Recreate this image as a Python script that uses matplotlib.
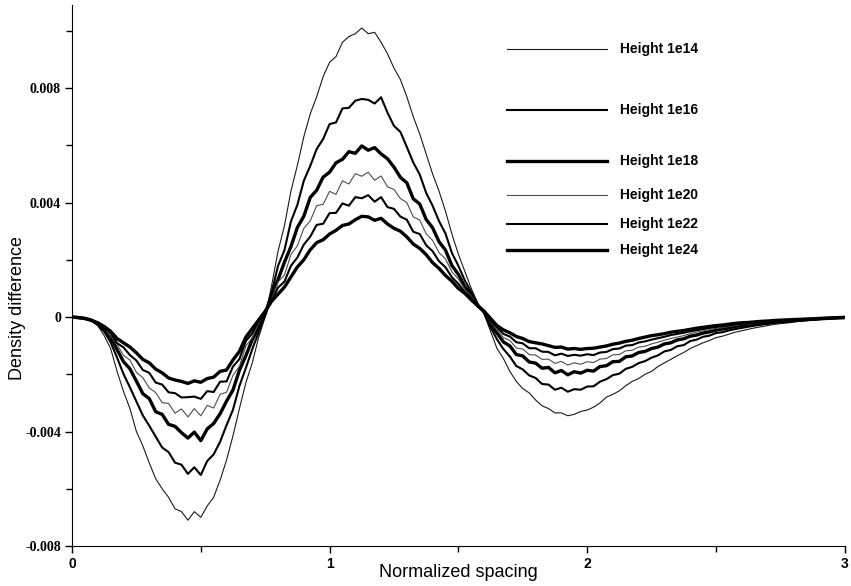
import numpy as np
import matplotlib
matplotlib.use("Agg")
import matplotlib.pyplot as plt

# values, in units of 1e-4, x step 0.025 from 0 to 3
spacing = np.linspace(0, 3, 121)
scale = 1e-4

h14 = [0, -0.2, -0.5, -1.2, -3, -6.5, -11, -19, -26, -32,
       -40, -45, -51, -56.5, -60, -63, -67, -68, -71, -68,
       -70, -66, -63, -57, -50, -41.5, -32, -23, -16, -7,
       0, 11, 23, 32, 44, 53, 63, 71, 77, 84,
       89, 91, 96, 98, 99, 101, 99, 99.5, 96, 92,
       87, 83, 77, 70, 64, 57, 50, 44, 37, 29,
       22, 16, 10, 5, 1, -5, -11, -14.5, -19, -22.5,
       -25, -26.5, -29, -31, -32, -33.5, -33.5, -34.5, -34, -33,
       -32.5, -31.5, -30, -28, -27, -25.8, -24, -22.5, -21.5, -20,
       -19, -17.3, -16, -14.8, -13.5, -12.4, -11, -10, -9, -8.2,
       -7.2, -6.7, -6, -5.3, -4.8, -4.3, -3.8, -3.4, -3, -2.6,
       -2.3, -2.1, -1.8, -1.5, -1.3, -1.1, -0.9, -0.7, -0.5, -0.4,
       -0.3]
h16 = [0, -0.2, -0.5, -1.2, -2.6, -5.0, -8.8, -14.2, -19.9, -24.6,
       -29.5, -34.4, -38.0, -41.8, -45.6, -47.2, -50.9, -51.6, -54.8, -52.5,
       -55.2, -50.3, -48.0, -43.6, -37.8, -32.4, -24.1, -17.8, -11.2, -5.3,
       0.9, 8.6, 17.9, 23.4, 33.4, 39.2, 47.6, 52.8, 58.7, 62.2,
       67.4, 68.0, 72.9, 73.1, 75.6, 76.2, 75.9, 74.6, 76.8, 71.4,
       66.8, 64.7, 59.4, 54.0, 49.8, 43.4, 38.9, 33.5, 29.2, 22.4,
       17.9, 12.8, 8.8, 4.3, 1.6, -3.6, -7.8, -11.2, -13.8, -17.1,
       -18.3, -20.4, -21.3, -23.4, -23.6, -25.4, -24.7, -26.1, -25.2, -25.4,
       -24.3, -24.2, -22.6, -21.7, -20.3, -19.8, -18.1, -17.4, -16.1, -15.4,
       -14.2, -13.4, -12.0, -11.5, -10.2, -9.8, -8.4, -7.9, -6.9, -6.5,
       -5.6, -5.3, -4.7, -4.2, -3.8, -3.4, -3.0, -2.7, -2.4, -2.1,
       -1.9, -1.7, -1.5, -1.2, -1.1, -0.9, -0.8, -0.6, -0.4, -0.3,
       -0.2]
h18 = [0, -0.2, -0.5, -1.1, -2.4, -4.7, -7.0, -11.4, -15.6, -18.1,
       -22.4, -26.8, -28.5, -33.1, -34.0, -37.5, -38.2, -40.4, -42.3, -40.2,
       -43.2, -39.1, -37.2, -33.8, -29.4, -25.5, -18.6, -13.5, -7.9, -3.6,
       1.0, 7.9, 13.1, 19.2, 24.6, 31.3, 35.2, 41.8, 44.3, 48.9,
       50.6, 53.9, 55.1, 57.8, 57.2, 59.8, 58.3, 59.2, 57.0, 55.3,
       52.4, 48.8, 46.9, 41.3, 39.5, 34.1, 31.2, 26.3, 23.4, 18.0,
       14.9, 10.6, 7.9, 4.0, 1.9, -2.6, -5.6, -8.7, -10.1, -13.1,
       -13.6, -15.7, -16.1, -17.9, -17.6, -19.5, -18.7, -20.2, -19.1, -19.6,
       -18.6, -18.9, -17.3, -17.0, -15.6, -15.5, -13.9, -13.6, -12.4, -12.0,
       -11.0, -10.5, -9.4, -9.0, -8.0, -7.6, -6.7, -6.3, -5.6, -5.2,
       -4.6, -4.2, -3.8, -3.3, -3.0, -2.8, -2.5, -2.2, -2.0, -1.7,
       -1.5, -1.4, -1.2, -1.1, -0.9, -0.8, -0.6, -0.5, -0.4, -0.3,
       -0.2]
h20 = [0, -0.2, -0.5, -1.1, -2.3, -3.8, -6.7, -9.6, -13.4, -15.0,
       -19.3, -21.2, -24.8, -26.4, -29.9, -30.2, -33.6, -32.1, -34.9, -32.0,
       -34.5, -30.9, -31.8, -27.0, -26.3, -20.4, -17.2, -10.1, -7.3, -2.0,
       1.8, 6.2, 12.3, 14.7, 21.8, 24.9, 31.0, 33.6, 38.9, 39.4,
       43.9, 42.9, 47.6, 46.5, 50.1, 49.2, 50.6, 47.8, 49.3, 45.5,
       44.6, 41.4, 40.0, 35.0, 33.9, 29.1, 26.8, 22.5, 20.3, 15.8,
       13.3, 9.6, 7.3, 3.8, 2.2, -1.9, -4.4, -7.2, -8.2, -10.8,
       -11.2, -13.1, -13.3, -14.8, -14.7, -16.2, -15.5, -16.8, -16.0, -16.5,
       -15.6, -15.9, -14.7, -14.5, -13.2, -13.1, -11.8, -11.6, -10.5, -10.2,
       -9.4, -8.8, -8.1, -7.5, -7.0, -6.5, -5.8, -5.3, -4.8, -4.4,
       -4.0, -3.7, -3.3, -2.9, -2.6, -2.5, -2.2, -1.9, -1.8, -1.5,
       -1.4, -1.3, -1.1, -1.0, -0.8, -0.7, -0.6, -0.5, -0.3, -0.3,
       -0.2]
h22 = [0, -0.2, -0.5, -1.1, -2.0, -3.9, -5.5, -9.1, -10.6, -13.3,
       -15.2, -18.5, -19.5, -22.9, -23.6, -26.3, -26.6, -28.1, -28.0, -27.8,
       -28.6, -25.9, -26.2, -22.6, -22.5, -17.3, -14.7, -8.4, -5.7, -1.3,
       2.1, 5.6, 10.3, 12.4, 17.9, 20.8, 25.3, 28.1, 32.2, 32.6,
       36.3, 36.4, 39.7, 38.9, 41.9, 41.5, 42.6, 40.3, 41.9, 38.4,
       37.8, 35.1, 34.0, 29.8, 29.0, 25.1, 23.0, 19.5, 17.4, 13.9,
       11.6, 8.7, 6.7, 3.8, 2.1, -1.3, -3.6, -5.9, -6.8, -8.8,
       -9.2, -10.9, -10.9, -12.1, -12.2, -13.4, -12.8, -13.6, -13.2, -13.5,
       -13.0, -13.3, -12.4, -12.2, -11.2, -11.0, -10.0, -9.8, -8.9, -8.5,
       -7.9, -7.4, -6.9, -6.3, -5.9, -5.5, -5.0, -4.6, -4.2, -3.8,
       -3.5, -3.2, -2.9, -2.5, -2.3, -2.2, -1.9, -1.7, -1.6, -1.4,
       -1.2, -1.1, -1.0, -0.9, -0.8, -0.7, -0.5, -0.4, -0.3, -0.2,
       -0.1]
h24 = [0, -0.2, -0.5, -1.1, -2, -3.3, -5, -7.5, -9, -10.5,
       -12.5, -14.8, -16, -18.2, -19.5, -21.3, -22, -22.5, -23.2, -22.3,
       -22.8, -21.5, -21, -19, -18.5, -15, -12, -7, -4, -1,
       2, 5.5, 8, 10.5, 14, 17.5, 20, 23.5, 26, 27,
       29, 30.3, 32, 32.5, 34, 35.2, 35, 33.8, 34.5, 32.5,
       31, 30, 28, 25.5, 24, 21.8, 19, 17, 14.5, 12.5,
       10, 8.3, 6, 4, 2, -0.5, -3, -4.5, -5.5, -6.8,
       -7.5, -8.6, -9, -9.4, -10, -10.6, -10.5, -11.2, -11, -11.3,
       -11, -10.9, -10.5, -10.1, -9.5, -9.1, -8.5, -8.1, -7.5, -7,
       -6.5, -6.2, -5.8, -5.3, -5, -4.7, -4.3, -3.9, -3.6, -3.3,
       -3, -2.8, -2.5, -2.2, -2, -1.9, -1.7, -1.5, -1.4, -1.2,
       -1.1, -1, -0.9, -0.8, -0.7, -0.6, -0.5, -0.4, -0.3, -0.2,
       -0.1]

labels = ["Height 1e14", "Height 1e16", "Height 1e18",
          "Height 1e20", "Height 1e22", "Height 1e24"]
series = [h14, h16, h18, h20, h22, h24]
widths = [0.8, 1.5, 2.4, 0.8, 1.5, 2.4]
colors = ["#1a1a1a", "black", "black", "#4d4d4d", "black", "black"]
# legend rows, axes fraction (irregular spacing as in the original)
leg_y = [0.919, 0.806, 0.712, 0.649, 0.595, 0.547]

fig = plt.figure(figsize=(8.51, 5.86), dpi=100)
ax = fig.add_axes([0.0846, 0.0683, 0.908, 0.923])

for vals, lab, lw, c, ly in zip(series, labels, widths, colors, leg_y):
    ax.plot(spacing, np.array(vals) * scale, color=c, lw=lw)
    ax.plot([0.563, 0.693], [ly, ly], color=c, lw=lw, transform=ax.transAxes)
    ax.text(0.709, ly, lab, transform=ax.transAxes, va="center", ha="left",
            fontsize=10, fontweight="bold", family="Liberation Sans")

ax.set_xlim(0, 3)
ax.set_ylim(-0.008, 0.0109)
ax.spines["top"].set_visible(False)
ax.spines["right"].set_visible(False)

ax.set_xticks([0, 1, 2, 3])
ax.set_xticklabels(["0", "1", "2", "3"], fontsize=10, fontweight="bold",
                   family="Liberation Sans")
ax.set_xticks([0.5, 1.5, 2.5], minor=True)
yt = [-0.008, -0.004, 0, 0.004, 0.008]
ax.set_yticks(yt)
ax.set_yticklabels(["-0.008", "-0.004", "0", "0.004", "0.008"], fontsize=10,
                   fontweight="bold", family="Liberation Serif")
ax.set_yticks([-0.006, -0.002, 0.002, 0.006, 0.010], minor=True)
ax.tick_params(which="major", direction="out", length=5, width=1, pad=3)
ax.tick_params(which="minor", direction="out", length=4, width=1)

ax.set_xlabel("Normalized spacing", fontsize=13, family="Liberation Sans")
ax.xaxis.set_label_coords(0.5, -0.033)
ax.set_ylabel("Density difference", fontsize=13, family="Liberation Sans")
ax.yaxis.set_label_coords(-0.06, 0.44)

fig.savefig("out.png", dpi=100)
